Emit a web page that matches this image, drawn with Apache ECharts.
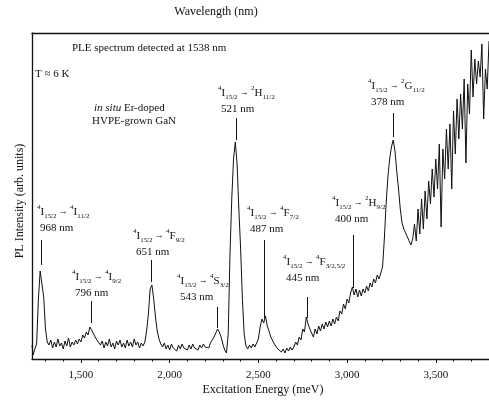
<!DOCTYPE html>
<html><head><meta charset="utf-8">
<script src="https://cdn.jsdelivr.net/npm/echarts@6/dist/echarts.min.js"></script>
<style>html,body{margin:0;padding:0;background:#fff}#c{width:489px;height:401px}</style>
</head><body><div id="c"></div>
<script>
// ---------- data ----------
const energy = [
1224,
1230,1240,1250,1260,1270,1280,1290,1300,1310,1320,
1330,1340,1350,1360,1370,1380,1390,1400,1410,1420,
1430,1440,1450,1460,1470,1480,1490,1500,1510,1520,
1530,1540,1550,1560,1570,1580,1590,1600,1610,1620,
1630,1640,1650,1660,1670,1680,1690,1700,1710,1720,
1730,1740,1750,1760,1770,1780,1790,1800,1810,1820,
1830,1840,1850,1860,1870,1880,1890,1900,1910,1920,
1930,1940,1950,1960,1970,1980,1990,2000,2010,2020,
2030,2040,2050,2060,2070,2080,2090,2100,2110,2120,
2130,2140,2150,2160,2170,2180,2190,2200,2210,2220,
2230,2240,2250,2260,2270,2280,2290,2300,2310,2320,
2330,2340,2350,2360,2370,2380,2390,2400,2410,2420,
2430,2440,2450,2460,2470,2480,2490,2500,2510,2520,
2530,2540,2550,2560,2570,2580,2590,2600,2610,2620,
2630,2640,2650,2660,2670,2680,2690,2700,2710,2720,
2730,2740,2750,2760,2770,2780,2790,2800,2810,2820,
2830,2840,2850,2860,2870,2880,2890,2900,2910,2920,
2930,2940,2950,2960,2970,2980,2990,3000,3010,3020,
3030,3040,3050,3060,3070,3080,3090,3100,3110,3120,
3130,3140,3150,3160,3170,3180,3190,3200,3210,3220,
3230,3240,3250,3260,3270,3280,3290,3300,3310,3320,
3330,3340,3350,3360,3370,3380,3390,3400,3410,3420,
3430,3440,3450,3460,3470,3480,3490,3500,3510,3520,
3530,3540,3550,3560,3570,3580,3590,3600,3610,3620,
3630,3640,3650,3660,3670,3680,3690,3700,3710,3720,
3730,3740,3750,3760,3770,3780,3790,3800
];
const intensity = [
14,
4,10,15,60,88,90,62,30,17,14,
19,11,17,12,20,13,16,10,18,13,
21,12,17,14,19,15,20,17,24,21,
27,24,32,29,27,22,19,21,14,18,
11,17,13,20,12,16,10,18,14,19,
12,16,11,19,13,17,12,20,14,17,
11,16,13,17,28,45,70,74,60,42,
28,20,15,12,16,10,14,9,15,11,
13,8,14,10,15,11,13,9,14,10,
15,11,13,9,14,11,15,12,14,11,
16,18,22,26,30,27,22,15,9,6,
25,105,160,200,217,195,150,110,60,25,
13,10,14,11,15,12,16,20,32,40,
36,43,33,28,22,20,15,13,10,12,
7,10,6,11,8,12,9,12,17,14,
22,19,30,27,42,35,30,26,22,30,
25,33,28,35,30,37,32,38,33,40,
35,42,38,48,45,55,50,60,56,66,
72,64,70,62,69,63,70,66,73,68,
76,72,80,76,84,80,86,92,120,155,
182,200,212,219,208,188,170,150,136,130,
126,122,118,114,120,135,118,150,125,160,
130,168,140,178,155,190,162,200,170,215,
132,210,180,230,190,235,170,248,205,260,
220,265,230,280,196,275,245,309,262,300,
275,298,282,315,240,290,270,318
];
const energyMajorTicks = [1500,2000,2500,3000,3500];
const energyMinorTicks = [1300,1400,1600,1700,1800,1900,2100,2200,2300,2400,2600,2700,2800,2900,3100,3200,3300,3400,3600,3700];
const wavelengthMajorTicks = [1000,900,800,700,600,500,400];
const wavelengthMinorTicks = [950,850,750,650,550,450,350];
const transitionNm = [968,796,651,543,521,487,445,400,378];
const finalSup  = ['4','4','4','4','2','4','4','2','2'];
const finalTerm = ['I','I','F','S','H','F','F','H','G'];
const finalJ    = ['11/2','9/2','9/2','3/2','11/2','7/2','3/2,5/2','9/2','11/2'];

// ---------- layout ----------
const HC = 1239.84; // meV*nm
const labelXY = [[37,212],[72,277],[133,236],[177,281],[218,93],[247,213],[283,262],[332,203],[368,86]];
const arrowE    = [1275,1556,1894,2266,2373,2531,2773,3032,3263];
const arrowFrom = [119,58,99,52,241,119,62,124,246];
const arrowTo   = [94,36,77,31,219,41,41,71,222];
const FONT = 'Liberation Serif';
const INK = '#111';

const chart = echarts.init(document.getElementById('c'), null, {renderer:'canvas'});
const seriesData = energy.map((e,i)=>[e,intensity[i]]);

const richStyles = {
  m:  {fontSize:11, fontFamily:FONT, lineHeight:16, fill:INK},
  sup:{fontSize:7, fontFamily:FONT, lineHeight:8, verticalAlign:'top', fill:INK},
  sub:{fontSize:7, fontFamily:FONT, lineHeight:8, verticalAlign:'bottom', fill:INK},
  ar: {fontSize:9, fontFamily:FONT, lineHeight:16, fill:INK},
  nm: {fontSize:11, fontFamily:FONT, lineHeight:17, padding:[0,0,0,3], fill:INK}
};

const graphics = [];
function addText(text, x, y, opts) {
  graphics.push(Object.assign({type:'text', x:x, y:y, silent:true,
    style:Object.assign({text:text, fill:INK, fontSize:11, fontFamily:FONT, align:'left', verticalAlign:'middle'}, opts||{})}));
}
transitionNm.forEach((nm,i)=>{
  const t = '{sup|4}{m|I}{sub|15/2}{ar| → }{sup|'+finalSup[i]+'}{m|'+finalTerm[i]+'}{sub|'+finalJ[i]+'}\n{nm|'+nm+' nm}';
  graphics.push({type:'text', x:labelXY[i][0], y:labelXY[i][1]-8, silent:true,
    style:{text:t, rich:richStyles, fill:INK, fontSize:11, fontFamily:FONT, align:'left', verticalAlign:'top'}});
});
addText('PLE spectrum detected at 1538 nm', 72, 48);
addText('T ≈ 6 K', 35, 74);
graphics.push({type:'text', x:94, y:108, silent:true, style:{text:'{it|in situ} Er-doped', rich:{it:{fontStyle:'italic', fontSize:11, fontFamily:FONT, fill:INK}}, fill:INK, fontSize:11, fontFamily:FONT, align:'left', verticalAlign:'middle'}});
addText('HVPE-grown GaN', 92, 121);
addText('Excitation Energy (meV)', 263, 390, {fontSize:12, align:'center'});
addText('Wavelength (nm)', 216, 12, {fontSize:12, align:'center'});
graphics.push({type:'text', x:20, y:201, rotation:Math.PI/2, silent:true,
  style:{text:'PL Intensity (arb. units)', fill:INK, fontSize:12, fontFamily:FONT, align:'center', verticalAlign:'middle'}});

const axisCommon = {type:'value', min:1224, max:3800, gridIndex:0, splitLine:{show:false}};
const option = {
  animation:false,
  backgroundColor:'#fff',
  grid:{left:32, right:0, top:33, bottom:42},
  xAxis:[
    Object.assign({}, axisCommon, {position:'bottom',
      axisLine:{show:true, lineStyle:{color:INK, width:1.3}},
      axisTick:{show:true, customValues:energyMajorTicks, length:4, lineStyle:{color:INK}},
      axisLabel:{show:true, customValues:energyMajorTicks, margin:11, fontSize:11, fontFamily:FONT, color:INK}}),
    Object.assign({}, axisCommon, {position:'bottom',
      axisLine:{show:false},
      axisTick:{show:true, customValues:energyMinorTicks, length:2.5, lineStyle:{color:INK}},
      axisLabel:{show:false, customValues:energyMinorTicks}}),
    Object.assign({}, axisCommon, {position:'top',
      axisLine:{show:true, lineStyle:{color:INK, width:1.3}},
      axisTick:{show:true, customValues:wavelengthMajorTicks.map(n=>HC/n), length:4, lineStyle:{color:INK}},
      axisLabel:{show:true, customValues:wavelengthMajorTicks.map(n=>HC/n), margin:5, fontSize:11, fontFamily:FONT, color:INK,
        formatter:v=>String(Math.round(HC/v))}}),
    Object.assign({}, axisCommon, {position:'top',
      axisLine:{show:false},
      axisTick:{show:true, customValues:wavelengthMinorTicks.map(n=>HC/n), length:2.5, lineStyle:{color:INK}},
      axisLabel:{show:false, customValues:wavelengthMinorTicks.map(n=>HC/n)}})
  ],
  yAxis:[{type:'value', min:0, max:326, position:'left',
    axisLine:{show:true, lineStyle:{color:INK, width:1.3}},
    axisTick:{show:false}, axisLabel:{show:false}, splitLine:{show:false}}],
  series:[{
    type:'line', xAxisIndex:0, yAxisIndex:0, data:seriesData, showSymbol:false, symbol:'none',
    lineStyle:{color:INK, width:1}, silent:true,
    markLine:{silent:true, symbol:['none','arrow'], symbolSize:[0,7],
      label:{show:false}, lineStyle:{color:INK, width:1, type:'solid'},
      data: arrowE.map((e,i)=>[{coord:[e, arrowFrom[i]]},{coord:[e, arrowTo[i]]}])}
  }],
  graphic: graphics
};
chart.setOption(option);
</script>
</body></html>
